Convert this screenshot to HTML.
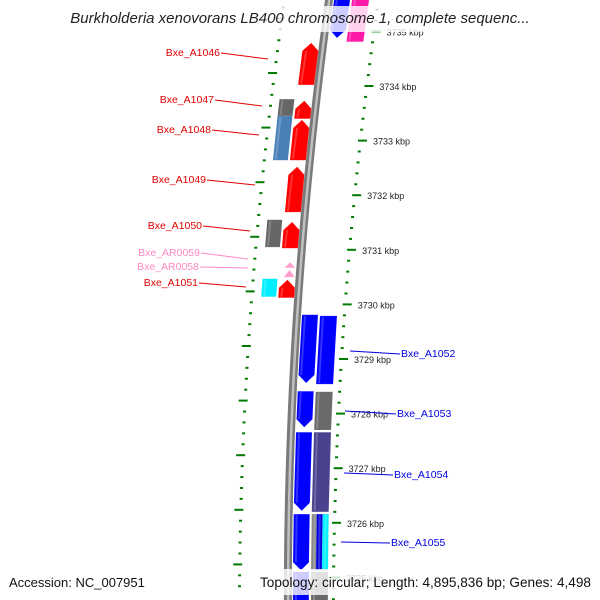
<!DOCTYPE html>
<html><head><meta charset="utf-8"><style>
html,body{margin:0;padding:0;background:#fff;}
svg{display:block;font-family:"Liberation Sans","DejaVu Sans",sans-serif;}
</style></head><body>
<svg id="map" width="600" height="600" viewBox="0 0 600 600" xmlns="http://www.w3.org/2000/svg">
<g id="rulers"></g>
<g id="backbone"></g>
<g id="features"></g>
<g id="labels"></g>
<rect x="60" y="6" width="482" height="26" fill="#fff" opacity="0.8"/>
<text x="300" y="23" text-anchor="middle" font-size="15" font-style="italic" fill="#222">Burkholderia xenovorans LB400 chromosome 1, complete sequenc...</text>
<rect x="4" y="569" width="150" height="26" fill="#fff" opacity="0.8"/>
<rect x="256" y="569" width="340" height="26" fill="#fff" opacity="0.8"/>
<text x="9" y="587" font-size="13" fill="#111">Accession: NC_007951</text>
<text x="591" y="587" text-anchor="end" font-size="13.6" fill="#111">Topology: circular; Length: 4,895,836 bp; Genes: 4,498</text>
</svg>
<script>
// ---- data ----
const tickKbp = [3735,3734,3733,3732,3731,3730,3729,3728,3727,3726,3725];
const tickLabels = ["3735 kbp","3734 kbp","3733 kbp","3732 kbp","3731 kbp","3730 kbp","3729 kbp","3728 kbp","3727 kbp","3726 kbp","3725 kbp"];
const featNames = ["Bxe_A1046","Bxe_A1047","Bxe_A1048","Bxe_A1049","Bxe_A1050","Bxe_AR0059","Bxe_AR0058","Bxe_A1051",
  "l2-gray-1","l2-blue-1","l2-gray-2","l2-cyan-1",
  "r1-top","Bxe_A1052-r1","Bxe_A1053-r1","Bxe_A1054-r1","Bxe_A1055-r1","r1-bottom",
  "r2-top","r2-blue","r2-gray-1","r2-slate","r2-gray-2","r2-blue-strip","r2-cyan-strip","r2-gray-3"];
const featStart = [3734.79,3733.73,3733.38,3732.52,3731.51,3730.77,3730.63,3730.45,
  3733.76,3733.45,3731.55,3730.47,
  3735.76,3729.81,3728.41,3727.66,3726.16,3725.10,
  3735.76,3729.79,3728.40,3727.66,3726.16,3726.16,3726.16,3725.10];
const featEnd = [3734.02,3733.40,3732.64,3731.69,3731.03,3730.67,3730.50,3730.12,
  3733.45,3732.64,3731.05,3730.14,
  3734.88,3728.56,3727.75,3726.22,3725.13,3724.40,
  3734.81,3728.54,3727.70,3726.20,3725.13,3725.13,3725.13,3724.40];
const featTrack = ["L1","L1","L1","L1","L1","L1s","L1s","L1","L2","L2","L2","L2","R1","R1","R1","R1","R1","R1","R2","R2","R2","R2","R2a","R2b","R2c","R2"];
const featColor = ["#ff0000","#ff0000","#ff0000","#ff0000","#ff0000","#ff9ccc","#ff9ccc","#ff0000",
  "#666666","#4a80b8","#666666","#00eeff",
  "#0000ff","#0000ff","#0000ff","#0000ff","#0000ff","#0000ff",
  "#ff1aa8","#0000ff","#6a6a6a","#4a428e","#888888","#0000e0","#00f0ff","#6a6a6a"];
const featArrow = ["up","up","up","up","up","tri","tri","up","none","none","none","none",
  "down","down","down","down","down","down","none","none","none","none","none","none","none","none"];

// ---- scales ----
function yOf(k){ return 86 + (3734 - k) * 54.6; }
function bx(y){ return 329 - 0.138*y + 1.158e-4*y*y; }
const tracks = {L1:[-20,-4],L1s:[-16,-5],L2:[-37,-22],R1:[5,21],R2:[23,40],R2a:[23,40],R2b:[28,34],R2c:[34,40]};
const NS="http://www.w3.org/2000/svg";
function mk(tag,attrs,parent){const e=document.createElementNS(NS,tag);for(const k in attrs)e.setAttribute(k,attrs[k]);parent.appendChild(e);return e;}

// backbone
const bb=document.getElementById('backbone');
let pts=[];for(let y=-5;y<=605;y+=10)pts.push([bx(y)-4,y]);for(let y=605;y>=-5;y-=10)pts.push([bx(y)+4,y]);
const bbp=mk('polygon',{points:pts.map(p=>p.join(',')).join(' '),fill:'#7a7a7a'},bb);


let pts2=[];for(let y=-5;y<=605;y+=10)pts2.push([bx(y)-1,y]);for(let y=605;y>=-5;y-=10)pts2.push([bx(y)+1.5,y]);
const bbh=mk('polygon',{points:pts2.map(p=>p.join(',')).join(' '),fill:'#c0c0c0'},bb);



// rulers
const rg=document.getElementById('rulers');
for(let i=0;i<=60;i++){
  const k=3736-i*0.2;
  const major=Math.abs(k-Math.round(k))<0.01;
  const y=yOf(k);
  if(y<-5||y>605)continue;
  const xr=bx(y)+49 - (y/600)*4;
  const t=mk('rect',{x:xr-(major?2:1),y:y-1,width:major?9:3,height:2,fill:'#007a00'},rg);
  
  
  const yl=y-13;
  const xl=bx(yl)-44-(yl/600)*4;
  const t2=mk('rect',{x:xl-(major?7:2),y:yl-1,width:major?9:3,height:2,fill:'#007a00'},rg);
  
  
}
tickKbp.forEach((k,i)=>{
  const y=yOf(k);
  const tx=mk('text',{x:bx(y)+62-(y/600)*4,y:y+4,'font-size':'9',fill:'#222'},rg);
  tx.textContent=tickLabels[i];
  
  
});

// features
const fg=document.getElementById('features');
featNames.forEach((n,i)=>{
  const y1=yOf(featStart[i]), y2=yOf(featEnd[i]);
  const [o1,o2]=tracks[featTrack[i]];
  const a=featArrow[i];
  let p;
  const L=y=>bx(y)+o1, R=y=>bx(y)+o2;
  if(a==='up'){const h=Math.min(8,(y2-y1)/2);const ym=y1+h;
    p=[[ (L(y1)+R(y1))/2,y1],[R(ym),ym],[R(y2),y2],[L(y2),y2],[L(ym),ym]];}
  else if(a==='down'){const h=8;const ym=y2-h;
    p=[[L(y1),y1],[R(y1),y1],[R(ym),ym],[(L(y2)+R(y2))/2,y2],[L(ym),ym]];}
  else if(a==='tri'){p=[[(L(y1)+R(y1))/2,y1],[R(y2),y2],[L(y2),y2]];}
  else p=[[L(y1),y1],[R(y1),y1],[R(y2),y2],[L(y2),y2]];
  const g=mk('polygon',{points:p.map(q=>q[0].toFixed(1)+','+q[1].toFixed(1)).join(' '),fill:featColor[i],stroke:'rgba(255,255,255,0.25)','stroke-width':'0.5'},fg);
  
  
  if(a!=='tri'){
    const s=mk('polygon',{points:[[L(y1)+2,y1+(a==='up'?8:1)],[L(y1)+4,y1+(a==='up'?8:1)],[L(y2)+4,y2-(a==='down'?8:1)],[L(y2)+2,y2-(a==='down'?8:1)]].map(q=>q.join(',')).join(' '),fill:'#fff',opacity:'0.2'},fg);
    
    
  }
});

// labels
const labText=["Bxe_A1046","Bxe_A1047","Bxe_A1048","Bxe_A1049","Bxe_A1050","Bxe_AR0059","Bxe_AR0058","Bxe_A1051","Bxe_A1052","Bxe_A1053","Bxe_A1054","Bxe_A1055"];
const labX=[220,214,211,206,202,200,199,198,401,397,394,391];
const labY=[56,103,133,183,229,256,270,286,357,417,478,546];
const lineEnd=[[268,59],[262,106],[259,135],[255,185],[250,231],[248,259],[248,268],[246,287],[350,351],[345,411],[344,473],[341,542]];
const labCol=["#e00000","#e00000","#e00000","#e00000","#e00000","#ff88c4","#ff88c4","#e00000","#0000e0","#0000e0","#0000e0","#0000e0"];
const lg=document.getElementById('labels');
labText.forEach((t,i)=>{
  const left=i<8;
  const x1=left?labX[i]+1:labX[i]-1;
  const ln=mk('line',{x1:x1,y1:labY[i]-3,x2:lineEnd[i][0],y2:lineEnd[i][1],stroke:labCol[i],'stroke-width':'1'},lg);
  
  
  const tx=mk('text',{x:labX[i],y:labY[i],'text-anchor':left?'end':'start','font-size':'10.5',fill:labCol[i]},lg);
  tx.textContent=t;
  
  
});
</script>
</body></html>
